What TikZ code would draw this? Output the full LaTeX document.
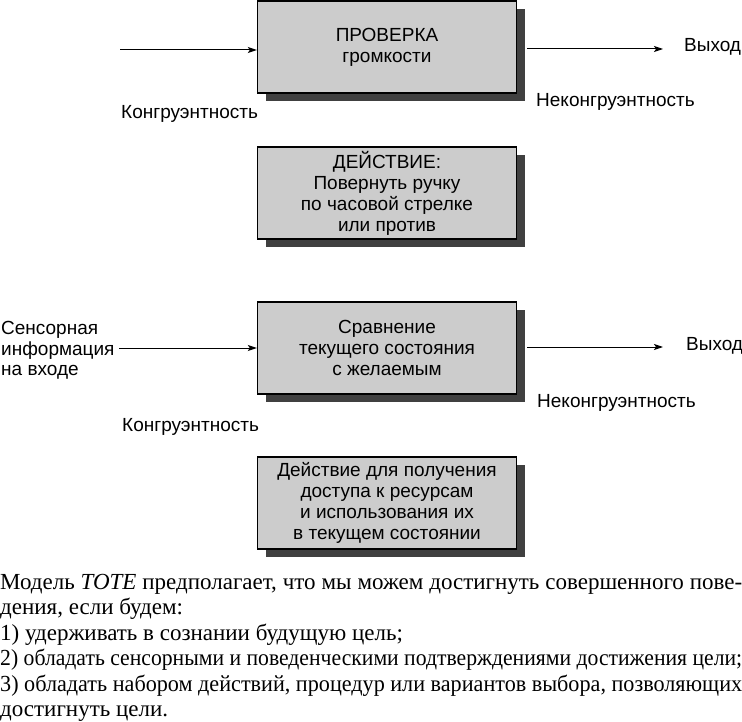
\documentclass[tikz,border=0pt]{standalone}
\usepackage{fontspec}
\setmainfont{Liberation Serif}
\newfontfamily\sansf{Liberation Sans}
\usetikzlibrary{shadows,arrows.meta,calc}
\definecolor{boxgray}{gray}{0.80}
\definecolor{shadowgray}{gray}{0.25}
\newsavebox\mylinebox
\newcommand\fitline[1]{\sbox\mylinebox{#1}%
  \ifdim\wd\mylinebox>742pt\resizebox{742pt}{\height}{\usebox\mylinebox}%
  \else\makebox[742pt][s]{#1}\fi}
\begin{document}
\begin{tikzpicture}[x=1pt,y=-1pt,
  tbox/.style={draw=black, line width=1.4pt, fill=boxgray, minimum width=259pt,
    minimum height=92pt, align=center, inner sep=0pt,
    font=\sansf\fontsize{19}{21}\selectfont,
    drop shadow={shadow xshift=8pt, shadow yshift=-8pt, fill=shadowgray, opacity=1}},
  lbl/.style={font=\sansf\fontsize{19}{21}\selectfont, inner sep=0pt, anchor=base west},
  captext/.style={font=\fontsize{23}{25}\selectfont, inner sep=0pt, anchor=base west},
  arr/.style={line width=1pt, -{Stealth[length=9pt,width=6pt,inset=2pt]}}]
\useasboundingbox (0,0) rectangle (742,722);
% boxes
\node[tbox] (b1) at (387,47) {ПРОВЕРКА\\громкости};
\node[tbox] (b2) at (387,193) {ДЕЙСТВИЕ:\\Повернуть ручку\\по часовой стрелке\\или против};
\node[tbox] (b3) at (387,348) {Сравнение\\текущего состояния\\с желаемым};
\node[tbox] (b4) at (387,503) {Действие для получения\\доступа к ресурсам\\и использования их\\в текущем состоянии};
% top block
\coordinate (in1) at (120,50);
\draw[arr] (in1) -- (in1 -| b1.west);
\coordinate (out1) at (663,49);
\draw[arr] ($(b1.east |- out1)+(10,0)$) -- (out1);
\node[lbl] (vyh1) at (684,51.5) {Выход};
\node[lbl] (nek1) at (536,107) {Неконгруэнтность};
\node[lbl] (kon1) at (121,119) {Конгруэнтность};
% lower block
\node[lbl] (s1) at (1,334.5) {Сенсорная};
\node[lbl] (s2) at (1,355) {информация};
\node[lbl] (s3) at (1,375.5) {на входе};
\coordinate (in2) at (119,348);
\draw[arr] (in2) -- (in2 -| b3.west);
\coordinate (out2) at (663,347);
\draw[arr] ($(b3.east |- out2)+(10,0)$) -- (out2);
\node[lbl] (vyh2) at (686,350) {Выход};
\node[lbl] (nek2) at (537,407) {Неконгруэнтность};
\node[lbl] (kon2) at (122,431) {Конгруэнтность};
% caption
\node[captext] (c1) at (0,589) {\fitline{Модель \textit{TOTE} предполагает, что мы можем достигнуть совершенного пове-}};
\node[captext] (c2) at (0,614) {дения, если будем:};
\node[captext] (c3) at (0,640) {1) удерживать в сознании будущую цель;};
\node[captext] (c4) at (0,665) {\fitline{2) обладать сенсорными и поведенческими подтверждениями достижения цели;}};
\node[captext] (c5) at (0,691) {\fitline{3) обладать набором действий, процедур или вариантов выбора, позволяющих}};
\node[captext] (c6) at (0,716) {достигнуть цели.};
\end{tikzpicture}
\end{document}
